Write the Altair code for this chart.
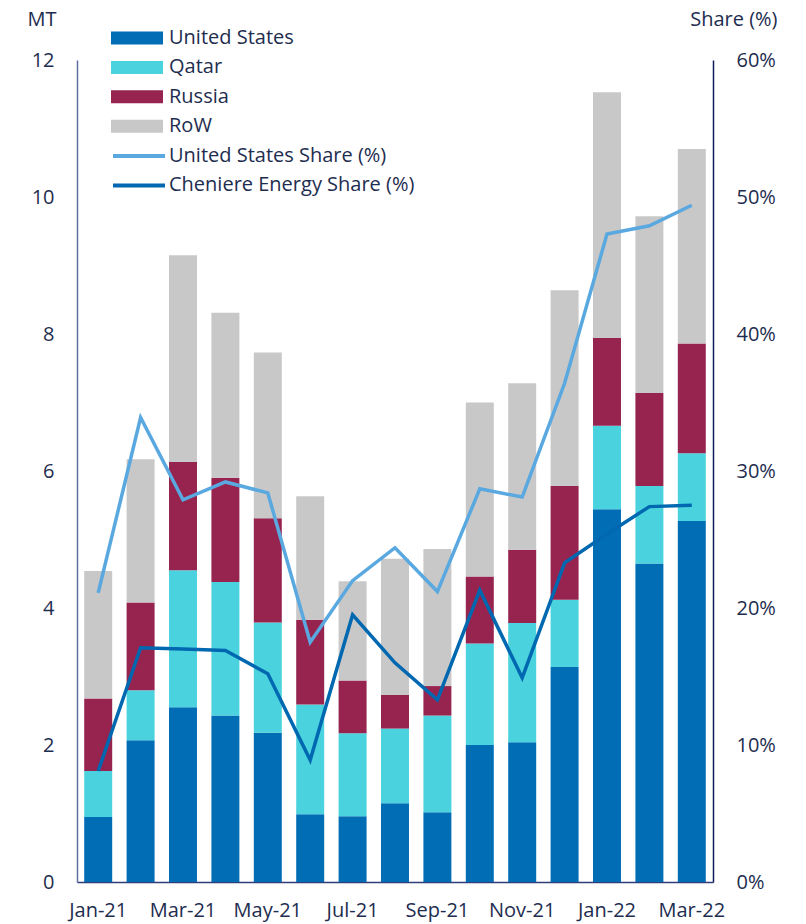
import altair as alt
import pandas as pd

months = ["Jan-21", "Feb-21", "Mar-21", "Apr-21", "May-21", "Jun-21", "Jul-21", "Aug-21",
          "Sep-21", "Oct-21", "Nov-21", "Dec-21", "Jan-22", "Feb-22", "Mar-22"]
tick_months = ["Jan-21", "Mar-21", "May-21", "Jul-21", "Sep-21", "Nov-21", "Jan-22", "Mar-22"]

united_states = [0.95, 2.07, 2.55, 2.43, 2.18, 0.99, 0.96, 1.15, 1.02, 2.00, 2.04, 3.14, 5.44, 4.65, 5.27]
qatar = [0.67, 0.73, 2.00, 1.95, 1.61, 1.60, 1.21, 1.09, 1.41, 1.48, 1.74, 0.98, 1.22, 1.13, 0.99]
russia = [1.06, 1.28, 1.58, 1.52, 1.52, 1.24, 0.77, 0.49, 0.43, 0.98, 1.07, 1.66, 1.28, 1.36, 1.60]
rest_of_world = [1.86, 2.09, 3.02, 2.41, 2.42, 1.80, 1.45, 1.99, 2.00, 2.54, 2.43, 2.86, 3.59, 2.58, 2.84]

us_share = [21.1, 33.9, 27.9, 29.2, 28.4, 17.5, 22.0, 24.4, 21.2, 28.7, 28.1, 36.4, 47.3, 47.9, 49.4]
cheniere_share = [8.1, 17.1, 17.0, 16.9, 15.2, 8.9, 19.5, 16.0, 13.3, 21.3, 14.9, 23.3, 25.4, 27.4, 27.5]

bar_series = ["United States", "Qatar", "Russia", "RoW"]
bar_colors = ["#006DB5", "#4AD3DE", "#96244F", "#C8C8C8"]
line_series = ["United States Share (%)", "Cheniere Energy Share (%)"]
line_colors = ["#5AA8E0", "#0068B0"]

TEXT = "#1E2D4F"
FONT = "Open Sans"
FS = 20

rows = []
for name, vals in zip(bar_series, [united_states, qatar, russia, rest_of_world]):
    for m, v in zip(months, vals):
        rows.append({"month": m, "series": name, "value": v, "ord": bar_series.index(name)})
bars_df = pd.DataFrame(rows)

lrows = []
for name, vals in zip(line_series, [us_share, cheniere_share]):
    for m, v in zip(months, vals):
        lrows.append({"month": m, "series": name, "share": v})
lines_df = pd.DataFrame(lrows)

xscale = alt.Scale(domain=months, paddingInner=0.34, paddingOuter=0.17)
xaxis = alt.Axis(values=tick_months, labelAngle=0, ticks=False, tickSize=0, labelPadding=18,
                 labelFontSize=FS, labelColor=TEXT, labelFont=FONT, domainColor="#2E3F78",
                 domainWidth=1.5, title=None, grid=False)

bars = alt.Chart(bars_df).mark_bar().encode(
    x=alt.X("month:N", scale=xscale, axis=xaxis, sort=months),
    y=alt.Y("value:Q", stack="zero",
            scale=alt.Scale(domain=[0, 12], nice=False),
            axis=alt.Axis(values=[0, 2, 4, 6, 8, 10, 12], orient="left", ticks=False, tickSize=0,
                          labelPadding=23, labelFontSize=FS, labelColor=TEXT, labelFont=FONT,
                          domainColor="#5C6F9E", domainWidth=1.5, grid=False,
                          title="MT", titleAngle=0, titleAlign="right", titleBaseline="alphabetic",
                          titleX=-21, titleY=-35, titleFontSize=FS, titleFontWeight="normal",
                          titleColor=TEXT, titleFont=FONT)),
    fill=alt.Fill("series:N", scale=alt.Scale(domain=bar_series, range=bar_colors),
                  legend=alt.Legend(orient="none", legendX=34, legendY=-32, title=None,
                                    symbolType="M-1,-0.25L1,-0.25L1,0.25L-1,0.25Z",
                                    symbolSize=2704, symbolStrokeWidth=0,
                                    labelFontSize=FS, labelColor=TEXT, labelFont=FONT, labelLimit=400,
                                    labelOffset=6, clipHeight=20, rowPadding=9.4, padding=0)),
    order=alt.Order("ord:Q", sort="ascending"),
)

lines = alt.Chart(lines_df).mark_line(strokeWidth=3.5).encode(
    x=alt.X("month:N", scale=xscale, axis=xaxis, sort=months),
    y=alt.Y("share:Q", scale=alt.Scale(domain=[0, 60], nice=False),
            axis=alt.Axis(values=[0, 10, 20, 30, 40, 50, 60], orient="right", ticks=False, tickSize=0,
                          labelExpr="datum.value + '%'",
                          labelPadding=23, labelFontSize=FS, labelColor=TEXT, labelFont=FONT,
                          domainColor="#0F1E5C", domainWidth=1.5, grid=False,
                          title="Share (%)", titleAngle=0, titleAlign="right", titleBaseline="alphabetic",
                          titleX=64, titleY=-35, titleFontSize=FS, titleFontWeight="normal",
                          titleColor=TEXT, titleFont=FONT)),
    stroke=alt.Stroke("series:N", scale=alt.Scale(domain=line_series, range=line_colors),
                      legend=alt.Legend(orient="none", legendX=34, legendY=86, title=None,
                                        symbolType="stroke", symbolSize=2704, symbolStrokeWidth=4,
                                        labelFontSize=FS, labelColor=TEXT, labelFont=FONT, labelLimit=400,
                                        labelOffset=2, clipHeight=20, rowPadding=9.4, padding=0)),
)

chart = alt.layer(bars, lines).resolve_scale(y="independent").properties(
    width=636, height=822,
    autosize=alt.AutoSizeParams(type="none"),
    padding={"left": 69, "top": 52, "right": 85, "bottom": 42},
).configure_view(stroke=None)

chart.save("out.html", embed_options={"renderer": "svg", "actions": False})
